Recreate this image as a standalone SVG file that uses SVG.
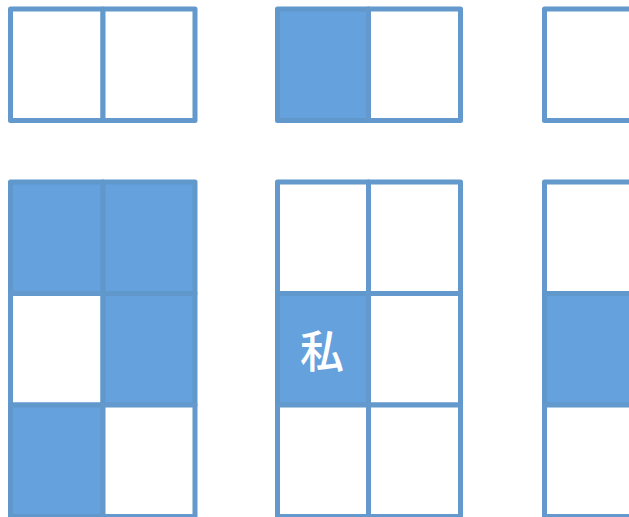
<svg xmlns="http://www.w3.org/2000/svg" width="629" height="517" viewBox="0 0 629 517">
<style>
.c{fill:#ffffff;stroke:#6399CC;stroke-width:5;stroke-linejoin:round}
.f{fill:#64A1DD;stroke:#6198CB;stroke-width:5;stroke-linejoin:round}
.t{font-family:"Noto Sans CJK JP","Noto Sans CJK SC",sans-serif;font-size:44px;font-weight:500;fill:#ffffff;text-anchor:middle}
</style>
<rect width="629" height="517" fill="#ffffff"/>
<g id="top-left">
<rect class="c" x="10.5" y="9" width="92.5" height="111.5"/>
<rect class="c" x="103" y="9" width="92" height="111.5"/>
</g>
<g id="top-middle">
<rect class="f" x="277.5" y="9" width="91" height="111.5"/>
<rect class="c" x="368.5" y="9" width="92" height="111.5"/>
</g>
<g id="top-right">
<rect class="c" x="544.5" y="9" width="92" height="111.5"/>
<rect class="c" x="636.5" y="9" width="92" height="111.5"/>
</g>
<g id="bottom-left">
<rect class="f" x="10.5" y="182" width="92.5" height="111.5"/>
<rect class="f" x="103" y="182" width="92" height="111.5"/>
<rect class="c" x="10.5" y="293.5" width="92.5" height="111.5"/>
<rect class="f" x="103" y="293.5" width="92" height="111.5"/>
<rect class="f" x="10.5" y="405" width="92.5" height="111.5"/>
<rect class="c" x="103" y="405" width="92" height="111.5"/>
</g>
<g id="bottom-middle">
<rect class="c" x="277.5" y="182" width="91" height="111.5"/>
<rect class="c" x="368.5" y="182" width="92" height="111.5"/>
<rect class="f" x="277.5" y="293.5" width="91" height="111.5"/>
<rect class="c" x="368.5" y="293.5" width="92" height="111.5"/>
<rect class="c" x="277.5" y="405" width="91" height="111.5"/>
<rect class="c" x="368.5" y="405" width="92" height="111.5"/>
<text class="t" x="322" y="368">私</text>
</g>
<g id="bottom-right">
<rect class="c" x="544.5" y="182" width="92" height="111.5"/>
<rect class="f" x="544.5" y="293.5" width="92" height="111.5"/>
<rect class="c" x="544.5" y="405" width="92" height="111.5"/>
</g>
<g id="connectors"></g>
</svg>
